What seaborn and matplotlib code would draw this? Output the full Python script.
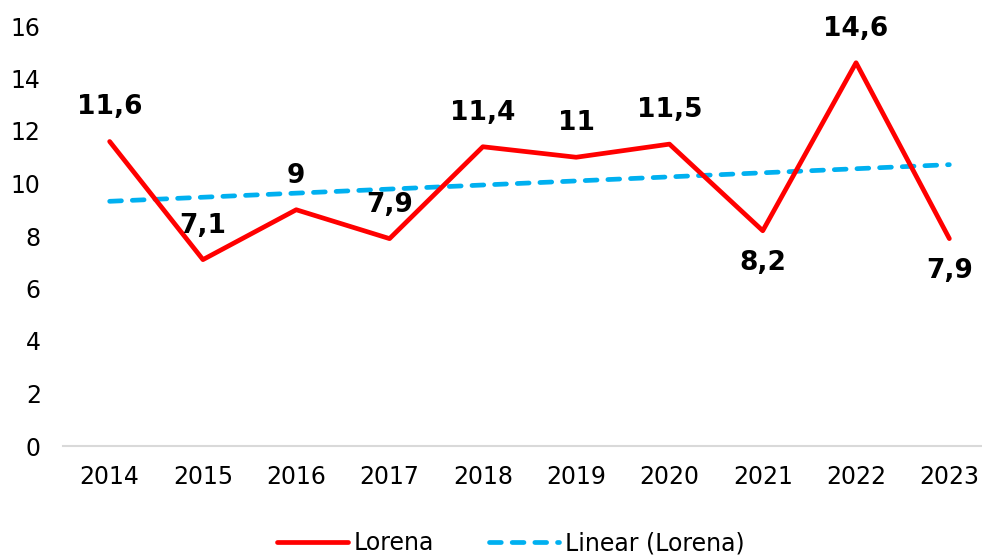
import numpy as np
import pandas as pd
import matplotlib
matplotlib.use("Agg")
import matplotlib.pyplot as plt
import seaborn as sns

# data
years = ['2014', '2015', '2016', '2017', '2018', '2019', '2020', '2021', '2022', '2023']
values = [11.6, 7.1, 9.0, 7.9, 11.4, 11.0, 11.5, 8.2, 14.6, 7.9]
labels = ['11,6', '7,1', '9', '7,9', '11,4', '11', '11,5', '8,2', '14,6', '7,9']
below = [False, False, False, False, False, False, False, True, False, True]

sns.set_style('white')
plt.rcParams['font.family'] = ['DejaVu Sans']

df = pd.DataFrame({'idx': np.arange(len(years)), 'value': values})
# linear trend line (least-squares fit, like Excel's "Linear" trendline)
slope, intercept = np.polyfit(df['idx'], df['value'], 1)
df['trend'] = intercept + slope * df['idx']

fig = plt.figure(figsize=(9.82, 5.56), dpi=100)
ax = fig.add_axes([63 / 982, 110 / 556, 933 / 982, 420 / 556])

sns.lineplot(data=df, x='idx', y='value', color='#FF0000', linewidth=3.4,
             label='Lorena', ax=ax, zorder=3)
sns.lineplot(data=df, x='idx', y='trend', color='#00B0F0', linewidth=3.4,
             label='Linear (Lorena)', ax=ax, zorder=2)
trend_line = ax.lines[1]
trend_line.set_dashes((2.5, 2.3))
trend_line.set_dash_capstyle('round')

# data labels
for x, y, txt, b in zip(df['idx'], values, labels, below):
    ax.annotate(txt, (x, y), xytext=(0, -32 if b else 34), textcoords='offset pixels',
                ha='center', va='center', fontsize=19, fontweight='bold', color='black')

ax.set_xlim(-0.5, 9.5)
ax.set_ylim(0, 16)
ax.set_yticks(range(0, 17, 2))
ax.set_xticks(df['idx'])
ax.set_xticklabels(years)
ax.set_xlabel('')
ax.set_ylabel('')
ax.tick_params(axis='both', length=0, labelsize=17, labelcolor='black')
ax.tick_params(axis='y', pad=16)
ax.tick_params(axis='x', pad=14)

for side in ['top', 'right', 'left']:
    ax.spines[side].set_visible(False)
ax.spines['bottom'].set_color('#D9D9D9')
ax.spines['bottom'].set_linewidth(1.5)

ax.get_legend().remove()
handles, lbls = ax.get_legend_handles_labels()
fig.legend(handles, lbls, loc='center', bbox_to_anchor=(511 / 982, 1 - 543 / 556),
           ncol=2, frameon=False, fontsize=17, labelcolor='black', handlelength=3.0,
           handletextpad=0.25, columnspacing=2.3, borderaxespad=0)

plt.savefig('out.png', dpi=100)
